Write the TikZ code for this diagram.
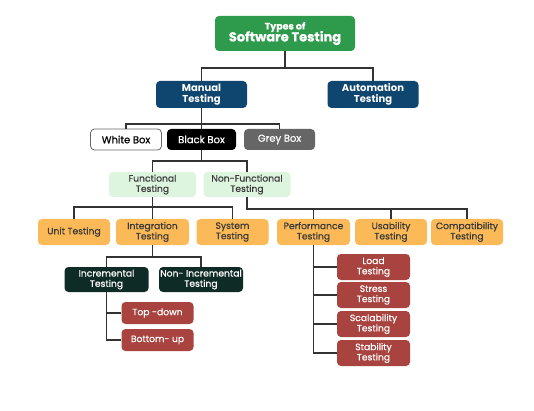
\documentclass[tikz,border=0pt]{standalone}
\usepackage{fontspec}
\setmainfont{Poppins}
\newfontfamily\medfont{Poppins}[FakeBold=0.6]
\usetikzlibrary{calc}
\definecolor{tgreen}{HTML}{2E9A4C}
\definecolor{tnavy}{HTML}{0E4670}
\definecolor{tgrey}{HTML}{666666}
\definecolor{tlgreen}{HTML}{DDF4DF}
\definecolor{torange}{HTML}{FBB957}
\definecolor{tdark}{HTML}{0F2B26}
\definecolor{tred}{HTML}{A8433F}
\definecolor{tline}{HTML}{333333}
\definecolor{ttext}{HTML}{3A3A3A}
\tikzset{
  box/.style={rounded corners=4pt, inner sep=1pt, align=center, font=\medfont\fontsize{9.2}{10.3}\selectfont, text=white},
  navybox/.style={box, fill=tnavy, minimum width=91, minimum height=27, font=\bfseries\fontsize{10}{11}\selectfont},
  lgbox/.style={box, fill=tlgreen, text=ttext, minimum width=87, minimum height=25},
  orbox/.style={box, fill=torange, text=ttext, minimum width=72, minimum height=26},
  dkbox/.style={box, fill=tdark, minimum width=84, minimum height=25},
  rdbox/.style={box, fill=tred, minimum width=72, minimum height=22},
  rd2box/.style={box, fill=tred, minimum width=73, minimum height=26},
  wbbox/.style={box, minimum width=71, minimum height=21, font=\medfont\fontsize{10}{11}\selectfont},
  conn/.style={draw=tline, line width=1.6pt}
}
\begin{document}
\begin{tikzpicture}[x=1pt,y=-1pt]
\fill[white] (0,0) rectangle (534,411);
\useasboundingbox (0,0) rectangle (534,411);
% nodes
\node[box, fill=tgreen, minimum width=140, minimum height=35] (top) at (285,33.5)
  {{\bfseries\fontsize{9.5}{10}\selectfont Types of}\\[-2pt]{\bfseries\fontsize{13}{14}\selectfont Software Testing}};
\node[navybox] (manual) at (201.5,94.5) {Manual\\Testing};
\node[navybox] (auto) at (373,94.5) {Automation\\Testing};
\node[wbbox, fill=white, draw=tgrey, line width=0.8pt, text=black] (white) at (126,139.5) {White Box};
\node[wbbox, fill=black, minimum width=69] (black) at (201.5,139.5) {Black Box};
\node[wbbox, fill=tgrey] (grey) at (279.5,139.5) {Grey Box};
\node[lgbox] (func) at (152.5,184.5) {Functional\\Testing};
\node[lgbox] (nonfunc) at (247,184.5) {Non-Functional\\Testing};
\node[orbox] (unit) at (74,232) {Unit Testing};
\node[orbox, minimum width=73] (integ) at (152.5,232) {Integration\\Testing};
\node[orbox] (sys) at (232.5,232) {System\\Testing};
\node[orbox, minimum width=73] (perf) at (313.5,232) {Performance\\Testing};
\node[orbox] (usab) at (391,232) {Usability\\Testing};
\node[orbox] (compat) at (467,232) {Compatibility\\Testing};
\node[dkbox] (incr) at (106.5,279.5) {Incremental\\Testing};
\node[dkbox] (nonincr) at (201,279.5) {Non- Incremental\\Testing};
\node[rdbox] (topdown) at (157.5,313) {Top -down};
\node[rdbox] (bottomup) at (157.5,340) {Bottom- up};
\node[rd2box] (load) at (373.5,267) {Load\\Testing};
\node[rd2box] (stress) at (373.5,295) {Stress\\Testing};
\node[rd2box] (scal) at (373.5,324) {Scalability\\Testing};
\node[rd2box] (stab) at (373.5,353) {Stability\\Testing};
% connectors
\draw[conn] (top.south) -- ++(0,17) coordinate (b1) -| (manual.north);
\draw[conn] (b1) -| (auto.north);
\draw[conn] (manual.south) -- ++(0,16) coordinate (b2) -| (white.north);
\draw[conn] (b2) -| (grey.north);
\draw[conn] (b2) -- (black.north);
\draw[conn] (black.south) -- ++(0,11) coordinate (b3) -| (func.north);
\draw[conn] (b3) -| (nonfunc.north);
\draw[conn] (func.south) -- ++(0,10) coordinate (b4) -| (unit.north);
\draw[conn] (b4) -| (sys.north);
\draw[conn] (b4) -- (integ.north);
\draw[conn] (nonfunc.south) -- ++(0,12) coordinate (b5) -| (compat.north);
\draw[conn] (b5) -| (perf.north);
\draw[conn] (b5) -| (usab.north);
\draw[conn] (integ.south) -- ++(0,12) coordinate (b6) -| (incr.north);
\draw[conn] (b6) -| (nonincr.north);
\draw[conn] (incr.south) |- (topdown.west);
\draw[conn] (incr.south) |- (bottomup.west);
\draw[conn] (perf.south) |- (load.west);
\draw[conn] (perf.south) |- (stress.west);
\draw[conn] (perf.south) |- (scal.west);
\draw[conn] (perf.south) |- (stab.west);
\end{tikzpicture}
\end{document}
